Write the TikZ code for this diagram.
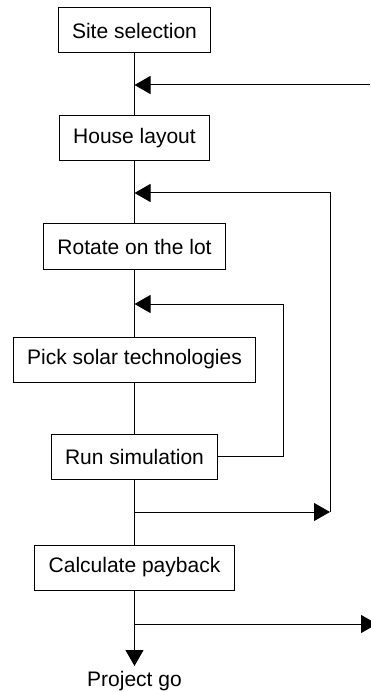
\documentclass[tikz,border=0pt]{standalone}
\usepackage{fontspec}
\setmainfont{Liberation Sans}
\usepackage{tikz}
\usetikzlibrary{arrows.meta, positioning}

\tikzset{
	stage/.style={draw, line width=1pt, minimum height=45pt, inner xsep=14pt, inner ysep=0pt},
	arr/.style={-{Triangle[length=16pt,width=18pt]}},
}

\begin{document}
\begin{tikzpicture}[x=1pt,y=-1pt,line width=1pt,font=\fontsize{21}{25}\selectfont]
	\useasboundingbox (0,0) rectangle (370,692);
	\node[stage] (site) at (134.5,30.5) {Site selection};
	\node[stage] (house) at (134.5,138.5) {House layout};
	\node[stage] (rotate) at (134.5,246.5) {Rotate on the lot};
	\node[stage] (pick) at (134.5,359.5) {Pick solar technologies};
	\node[stage] (run) at (134.5,456.5) {Run simulation};
	\node[stage] (calc) at (134.5,567.5) {Calculate payback};
	\node[anchor=north, inner sep=5pt] (go) at (134.5,666) {Project go};
	% main line
	\draw (site) -- (house);
	\draw (house) -- (rotate);
	\draw (rotate) -- (pick);
	\draw (pick) -- (run);
	\draw (run) -- (calc);
	\draw[arr] (calc) -- (go);
	% loops
	\coordinate (in1) at (134.5,85);
	\coordinate (in2) at (134.5,193);
	\coordinate (in3) at (134.5,304);
	\coordinate (out1) at (134.5,512);
	\coordinate (out2) at (134.5,624);
	\draw[arr] (370,85) -- (in1);
	\draw[arr] (run.east) -- (283,456.5) -- (283,304) -- (in3);
	\draw[arr] (out1) -- (330,512) coordinate (back);
	\draw[arr] (back) -- (330,193) -- (in2);
	\draw[arr] (out2) -- (377,624);
\end{tikzpicture}
\end{document}
